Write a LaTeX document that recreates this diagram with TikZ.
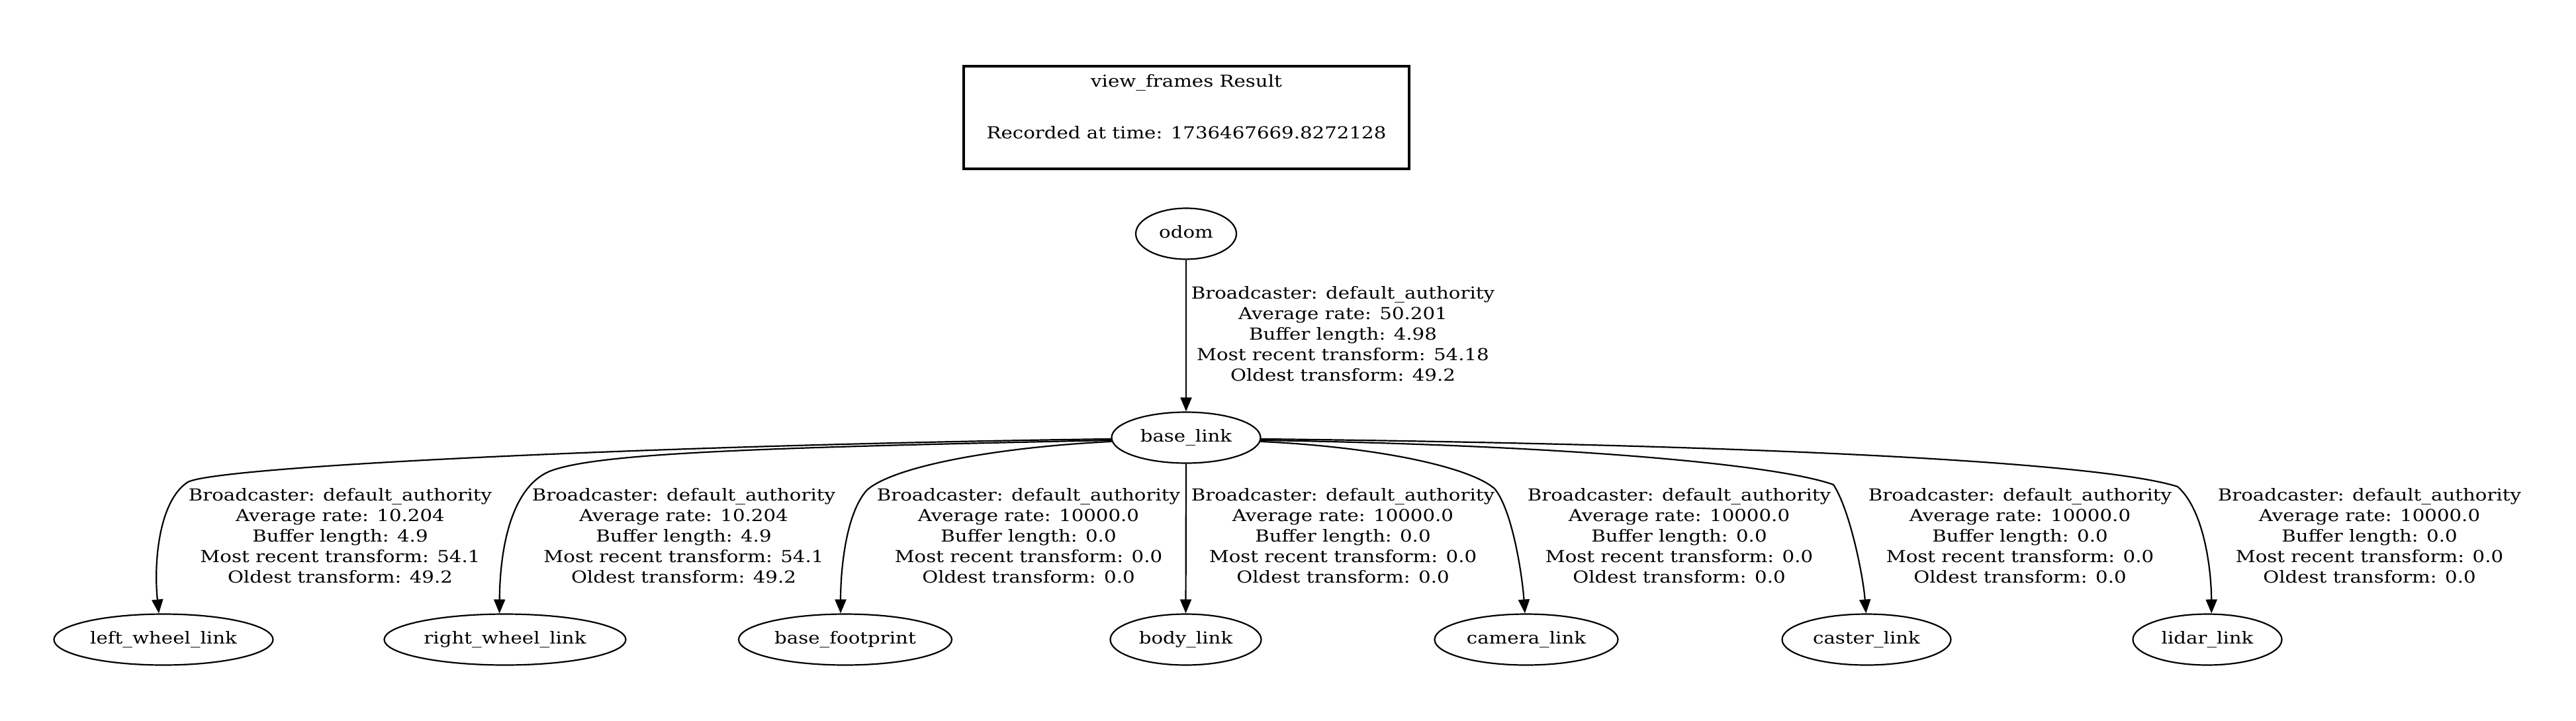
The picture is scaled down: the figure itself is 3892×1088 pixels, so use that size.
\documentclass[tikz,border=0pt]{standalone}
\usepackage{fontspec}
\setmainfont{DejaVu Serif}[FakeStretch=1.17]
\usetikzlibrary{arrows.meta,shapes.geometric}
\begin{document}
\begin{tikzpicture}[x=0.5pt,y=-0.5pt,
  lbl/.style={font=\fontsize{12.5}{15.5}\selectfont, align=center, inner sep=0pt},
  frame/.style={ellipse, draw, line width=1.1pt, inner sep=0pt, minimum height=38.5pt,
    font=\fontsize{12.5}{15.5}\selectfont, text height=0.8em, text depth=0.16em},
  conn/.style={draw, line width=1.1pt, -{Triangle[length=10.5pt,width=8.5pt]}},
  legendbox/.style={draw, line width=2.2pt, inner sep=0pt, minimum width=336.5pt, minimum height=77.5pt},
]
\fill[white] (0,0) rectangle (3892,1088);
\useasboundingbox (0,0) rectangle (3892,1088);

% legend
\node[legendbox] (legend) at (1792.5,177.5) {};
\node[lbl, anchor=base] (title) at (1792.5,131.7) {view\_frames Result};
\node[lbl, anchor=base] (rec) at (1792.5,209) {Recorded at time: 1736467669.8272128};

% frames
\node[frame, minimum width=76pt] (odom) at (1792,353) {\makebox[0pt]{odom}};
\node[frame, minimum width=112.5pt] (bl) at (1792,661) {\makebox[0pt]{base\_link}};
\node[frame, minimum width=165.5pt] (lw) at (247,966) {\makebox[0pt]{left\_wheel\_link}};
\node[frame, minimum width=182.5pt] (rw) at (763,966) {\makebox[0pt]{right\_wheel\_link}};
\node[frame, minimum width=161pt] (bf) at (1277,966) {\makebox[0pt]{base\_footprint}};
\node[frame, minimum width=114pt] (body) at (1791.5,966) {\makebox[0pt]{body\_link}};
\node[frame, minimum width=138.5pt] (cam) at (2306,966) {\makebox[0pt]{camera\_link}};
\node[frame, minimum width=127.5pt] (cs) at (2820,966) {\makebox[0pt]{caster\_link}};
\node[frame, minimum width=112.5pt] (ld) at (3335,966) {\makebox[0pt]{lidar\_link}};

% connectors
\draw[conn] (odom.south) -- (bl.north);
\draw[conn] (bl.181.5) .. controls (1000,672) and (330,704) .. (284,728)
  .. controls (240,756) and (232,850) .. (lw.100);
\draw[conn] (bl.182) .. controls (1150,676) and (900,684) .. (830,712)
  .. controls (765,740) and (755,850) .. (rw.102);
\draw[conn] (bl.183) .. controls (1500,676) and (1350,705) .. (1310,740)
  .. controls (1278,775) and (1270,860) .. (bf.100);
\draw[conn] (bl.south) -- (body.north);
\draw[conn] (bl.357) .. controls (2080,675) and (2220,705) .. (2258,738)
  .. controls (2285,770) and (2300,870) .. (cam.93);
\draw[conn] (bl.358.5) .. controls (2350,672) and (2680,700) .. (2770,732)
  .. controls (2795,770) and (2815,870) .. (cs.91);
\draw[conn] (bl.359.5) .. controls (2700,672) and (3180,700) .. (3290,735)
  .. controls (3330,770) and (3341,860) .. (ld.81);

% edge labels
\node[lbl] (l0) at (2029,504) {Broadcaster: default\_authority\\Average rate: 50.201\\Buffer length: 4.98\\Most recent transform: 54.18\\Oldest transform: 49.2};
\node[lbl] (l1) at (514,809) {Broadcaster: default\_authority\\Average rate: 10.204\\Buffer length: 4.9\\Most recent transform: 54.1\\Oldest transform: 49.2};
\node[lbl] (l2) at (1033,809) {Broadcaster: default\_authority\\Average rate: 10.204\\Buffer length: 4.9\\Most recent transform: 54.1\\Oldest transform: 49.2};
\node[lbl] (l3) at (1554,809) {Broadcaster: default\_authority\\Average rate: 10000.0\\Buffer length: 0.0\\Most recent transform: 0.0\\Oldest transform: 0.0};
\node[lbl] (l4) at (2029,809) {Broadcaster: default\_authority\\Average rate: 10000.0\\Buffer length: 0.0\\Most recent transform: 0.0\\Oldest transform: 0.0};
\node[lbl] (l5) at (2537,809) {Broadcaster: default\_authority\\Average rate: 10000.0\\Buffer length: 0.0\\Most recent transform: 0.0\\Oldest transform: 0.0};
\node[lbl] (l6) at (3052,809) {Broadcaster: default\_authority\\Average rate: 10000.0\\Buffer length: 0.0\\Most recent transform: 0.0\\Oldest transform: 0.0};
\node[lbl] (l7) at (3580,809) {Broadcaster: default\_authority\\Average rate: 10000.0\\Buffer length: 0.0\\Most recent transform: 0.0\\Oldest transform: 0.0};
\end{tikzpicture}
\end{document}
